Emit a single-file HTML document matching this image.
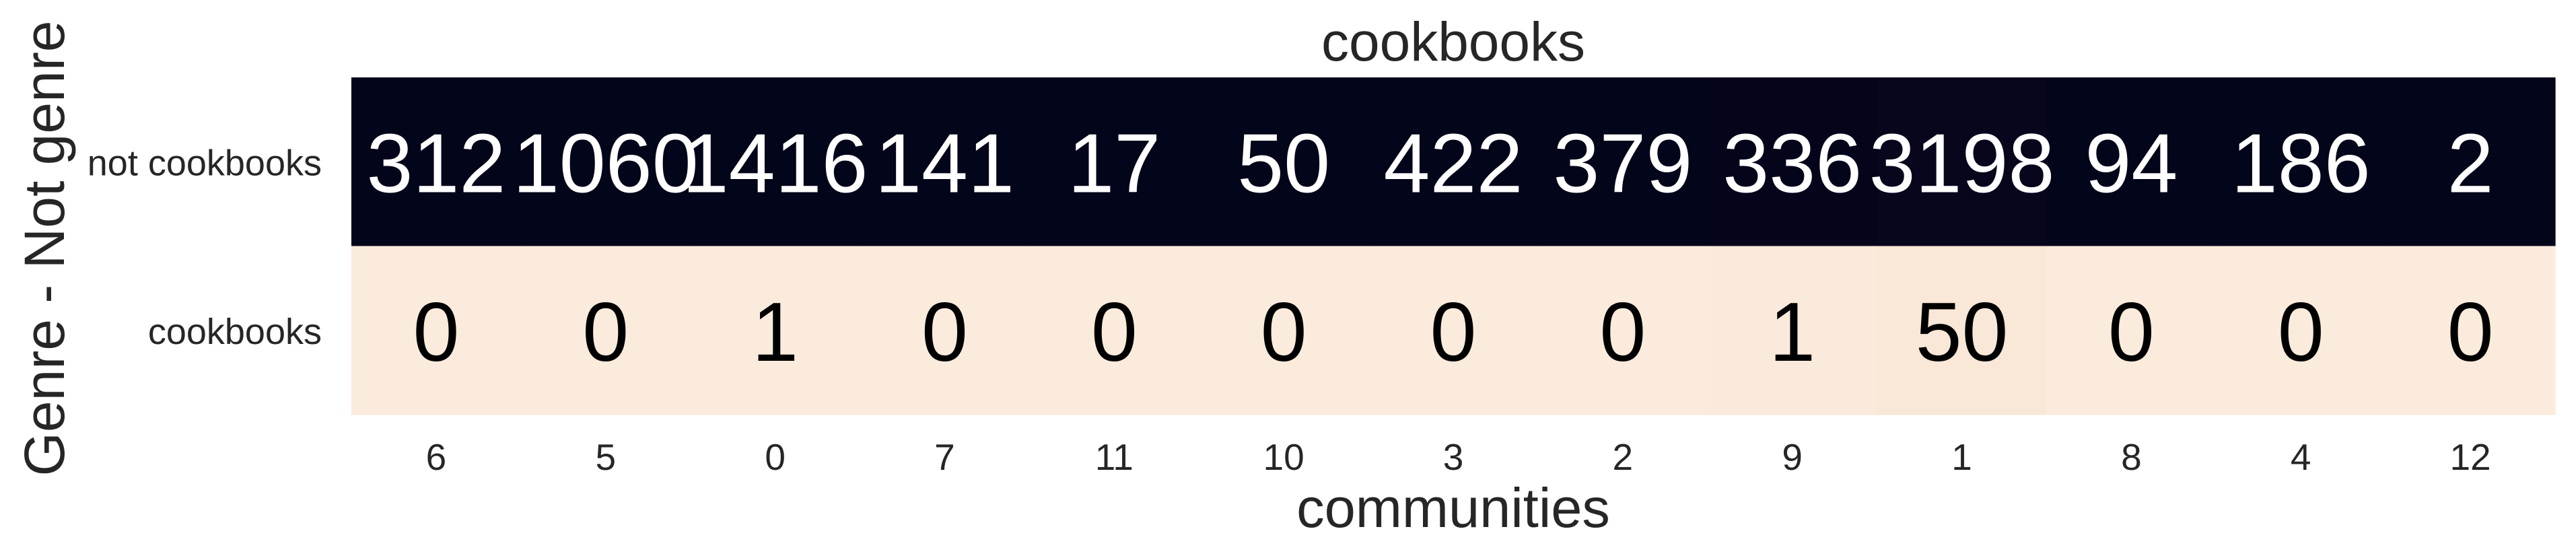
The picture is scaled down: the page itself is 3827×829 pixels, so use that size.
<!DOCTYPE html>
<html><head><meta charset="utf-8"><style>
html,body{margin:0;padding:0;background:#fff}
svg{display:block}
text{font-family:"Liberation Sans",Arial,sans-serif}
</style></head><body>
<svg id="chart" width="3827" height="829" viewBox="0 0 3827 829" xmlns="http://www.w3.org/2000/svg">
<text x="2159" y="90" font-size="82" fill="#262626" text-anchor="middle">cookbooks</text>
<text x="2159" y="783" font-size="83" fill="#262626" text-anchor="middle">communities</text>
<text transform="translate(95,369) rotate(-90)" font-size="84" fill="#262626" text-anchor="middle">Genre - Not genre</text>
<g id="cells"></g>
<g id="labels"></g>
</svg>
<script>
const categories = ["6","5","0","7","11","10","3","2","9","1","8","4","12"];
const rowLabels = ["not cookbooks","cookbooks"];
const notGenre = [312,1060,1416,141,17,50,422,379,336,3198,94,186,2];
const genre = [0,0,1,0,0,0,0,0,1,50,0,0,0];

const L=522,R=3796,T=115,B=616;
const cw=(R-L)/categories.length, rh=(B-T)/rowLabels.length;
function xPos(i){return L+i*cw;}
function yPos(j){return T+j*rh;}
const stops=[[0,[250,235,221]],[0.1,[246,206,184]],[0.3,[240,120,90]],[0.5,[203,27,79]],[0.7,[114,31,87]],[0.85,[52,19,56]],[1,[3,5,26]]];
function color(f){
  for(let k=1;k<stops.length;k++){
    if(f<=stops[k][0]){const a=stops[k-1],b=stops[k];const t=(f-a[0])/(b[0]-a[0]);
      const c=a[1].map((v,i)=>Math.round(v+(b[1][i]-v)*t));return `rgb(${c})`;}
  }
  return 'rgb(3,5,26)';
}
const NS="http://www.w3.org/2000/svg";
const cells=document.getElementById('cells'), labels=document.getElementById('labels');
const rows=[notGenre,genre];
categories.forEach((cat,i)=>{
  const sum=notGenre[i]+genre[i]||1;
  rows.forEach((arr,j)=>{
    const f=arr[i]/sum;
    const r=document.createElementNS(NS,'rect');
    
    
    r.setAttribute('x',xPos(i));r.setAttribute('y',yPos(j));
    r.setAttribute('width',cw+0.6);r.setAttribute('height',rh+0.6);
    r.setAttribute('fill',color(f));
    cells.appendChild(r);
    const t=document.createElementNS(NS,'text');
    
    
    t.setAttribute('x',xPos(i)+cw/2);t.setAttribute('y',yPos(j)+rh/2+45);
    t.setAttribute('font-size','124');t.setAttribute('text-anchor','middle');
    t.setAttribute('fill',f>0.5?'#ffffff':'#000000');
    t.textContent=arr[i];
    labels.appendChild(t);
  });
  const tk=document.createElementNS(NS,'text');
  
  
  tk.setAttribute('x',xPos(i)+cw/2);tk.setAttribute('y',698);
  tk.setAttribute('font-size','55');tk.setAttribute('text-anchor','middle');tk.setAttribute('fill','#262626');
  tk.textContent=cat;
  labels.appendChild(tk);
});
rowLabels.forEach((lab,j)=>{
  const t=document.createElementNS(NS,'text');
  
  
  t.setAttribute('x',478);t.setAttribute('y',yPos(j)+rh/2+20);
  t.setAttribute('font-size','54');t.setAttribute('text-anchor','end');t.setAttribute('fill','#262626');
  t.textContent=lab;
  labels.appendChild(t);
});
</script>
</body></html>
